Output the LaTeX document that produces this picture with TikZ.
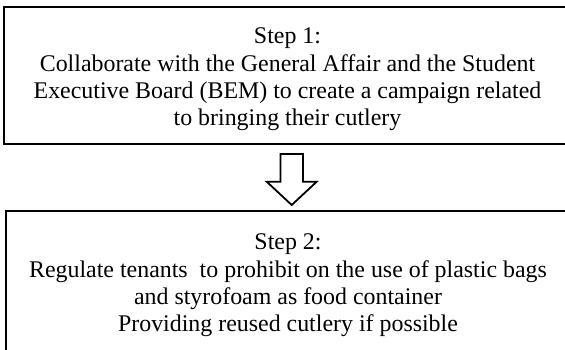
\documentclass[tikz,border=0pt]{standalone}
\usepackage{fontspec}
\setmainfont{Liberation Serif}
\usetikzlibrary{calc}
\begin{document}
\begin{tikzpicture}[x=1pt,y=-1pt,
  stepbox/.style={inner sep=0pt},
  boxline/.style={draw=black, line width=2pt, line join=miter},
  steptext/.style={align=center, inner sep=0pt,
    font=\fontsize{23.9}{27.3}\selectfont},
  blockarrow/.style={draw=black, line width=1.8pt, fill=white, line join=miter}]
\useasboundingbox (0,0) rectangle (565,349);
\clip (0,0) rectangle (565,349);
\node[stepbox, minimum width=596, minimum height=137] (s1) at (302,75.5) {};
\draw[boxline] (s1.north east) -- (s1.north west) -- (s1.south west) -- (s1.south east);
\node[steptext] (t1) at (287.5,79.5)
  {Step 1:\\Collaborate with the General Affair and the Student\\Executive Board (BEM) to create a campaign related\\to bringing their cutlery};
\node[stepbox, minimum width=593.7, minimum height=149] (s2) at (303.15,285.5) {};
\draw[boxline] (s2.north east) -- (s2.north west) -- (s2.south west) -- (s2.south east);
\node[steptext] (t2) at (288,285.5)
  {Step 2:\\Regulate tenants\ \ to prohibit on the use of plastic bags\\and styrofoam as food container\\Providing reused cutlery if possible};
\coordinate (atop) at (291.7,154);
\draw[blockarrow] ($(atop)+(-11.3,0)$) -- ($(atop)+(11.3,0)$) -- ($(atop)+(11.3,27.7)$)
  -- ($(atop)+(25,27.7)$) -- ($(atop)+(0,51)$) -- ($(atop)+(-25,27.7)$)
  -- ($(atop)+(-11.3,27.7)$) -- cycle;
\end{tikzpicture}
\end{document}
